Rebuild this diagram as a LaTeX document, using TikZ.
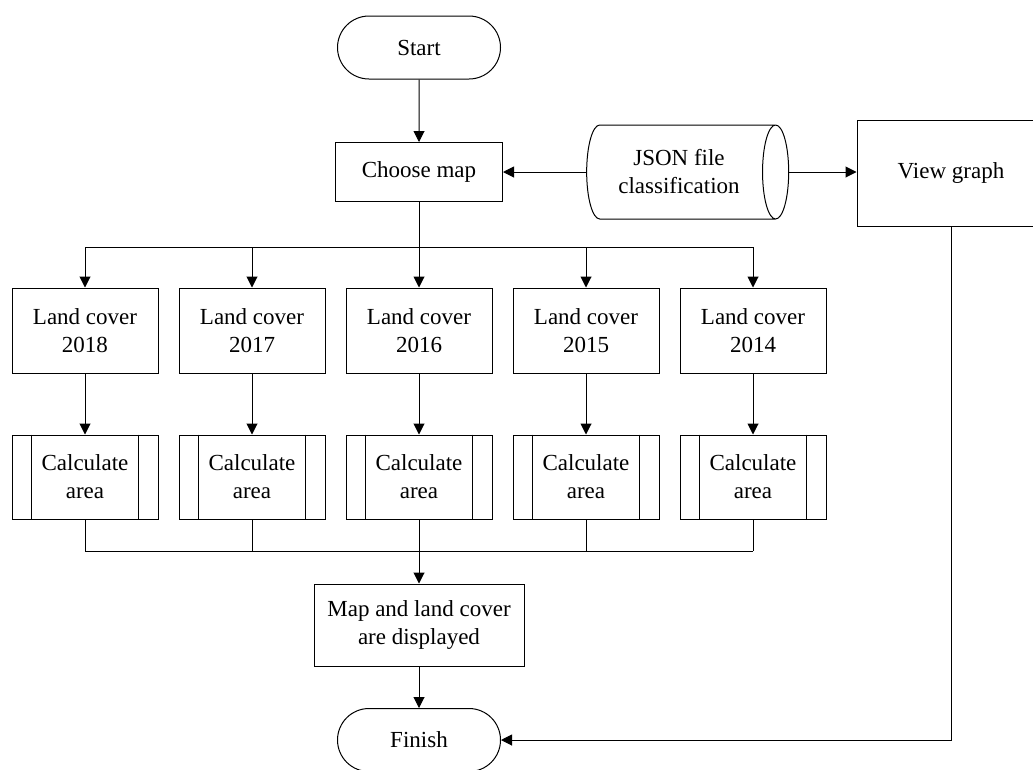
\documentclass[tikz,border=0pt]{standalone}
\usepackage{fontspec}
\setmainfont{Liberation Serif}
\usetikzlibrary{shapes.geometric,shapes.misc,arrows.meta}
\tikzset{%
  base/.style={draw, line width=1pt, align=center, inner sep=2pt,
               font=\fontsize{23}{28}\selectfont},
  terminal/.style={base, rounded rectangle, minimum width=167pt, minimum height=63pt},
  process/.style={base, rectangle, minimum width=146pt, minimum height=85pt},
  storage/.style={base, cylinder, shape aspect=0.54, minimum height=202pt, minimum width=94pt},
  flow/.style={line width=1pt, -{Triangle[length=11pt,width=11pt]}},
  link/.style={line width=1pt},
}

\begin{document}
\begin{tikzpicture}[x=1pt,y=-1pt]
              \useasboundingbox (0,0) rectangle (1033,769);
              \node[terminal] (start) at (419,47.5) {Start};
              \node[process, minimum width=167pt, minimum height=59pt] (choose) at (419,172) {Choose map};
              \node[storage] (json) at (679,172) {JSON file\\classification};
              \node[process, minimum width=188pt, minimum height=106pt] (view) at (951,173) {View graph};
              \coordinate (branch) at (419,247);
              \coordinate (merge) at (419,551);
              \foreach \yr [count=\i] in {2018,2017,2016,2015,2014} {
                \node[process] (lc\i) at ({85+167*(\i-1)},330.5) {Land cover\\\yr};
                \node[process, minimum height=84pt] (ca\i) at ({85+167*(\i-1)},477) {Calculate\\area};
                \draw[link] ([xshift=20pt]ca\i.north west) -- ([xshift=20pt]ca\i.south west);
                \draw[link] ([xshift=-20pt]ca\i.north east) -- ([xshift=-20pt]ca\i.south east);
                \draw[flow] (branch -| lc\i.north) -- (lc\i.north);
                \draw[flow] (lc\i.south) -- (ca\i.north);
                \draw[link] (ca\i.south) -- (merge -| ca\i.south);
              }
              \node[process, minimum width=210pt, minimum height=82pt] (map) at (419,625) {Map and land cover\\are displayed};
              \node[terminal] (finish) at (419,740) {Finish};
              \draw[flow] (start) -- (choose);
              \draw[link] (choose) -- (branch);
              \draw[link] (branch -| lc1.north) -- (branch -| lc5.north);
              \draw[link] (merge -| ca1.south) -- (merge -| ca5.south);
              \draw[flow] (merge) -- (map);
              \draw[flow] (json.west) -- (json.west -| choose.east);
              \draw[flow] (json.east) -- (json.east -| view.west);
              \draw[flow] (map) -- (finish);
              \draw[flow] (view.south) |- (finish.east);
          \end{tikzpicture}
\end{document}
